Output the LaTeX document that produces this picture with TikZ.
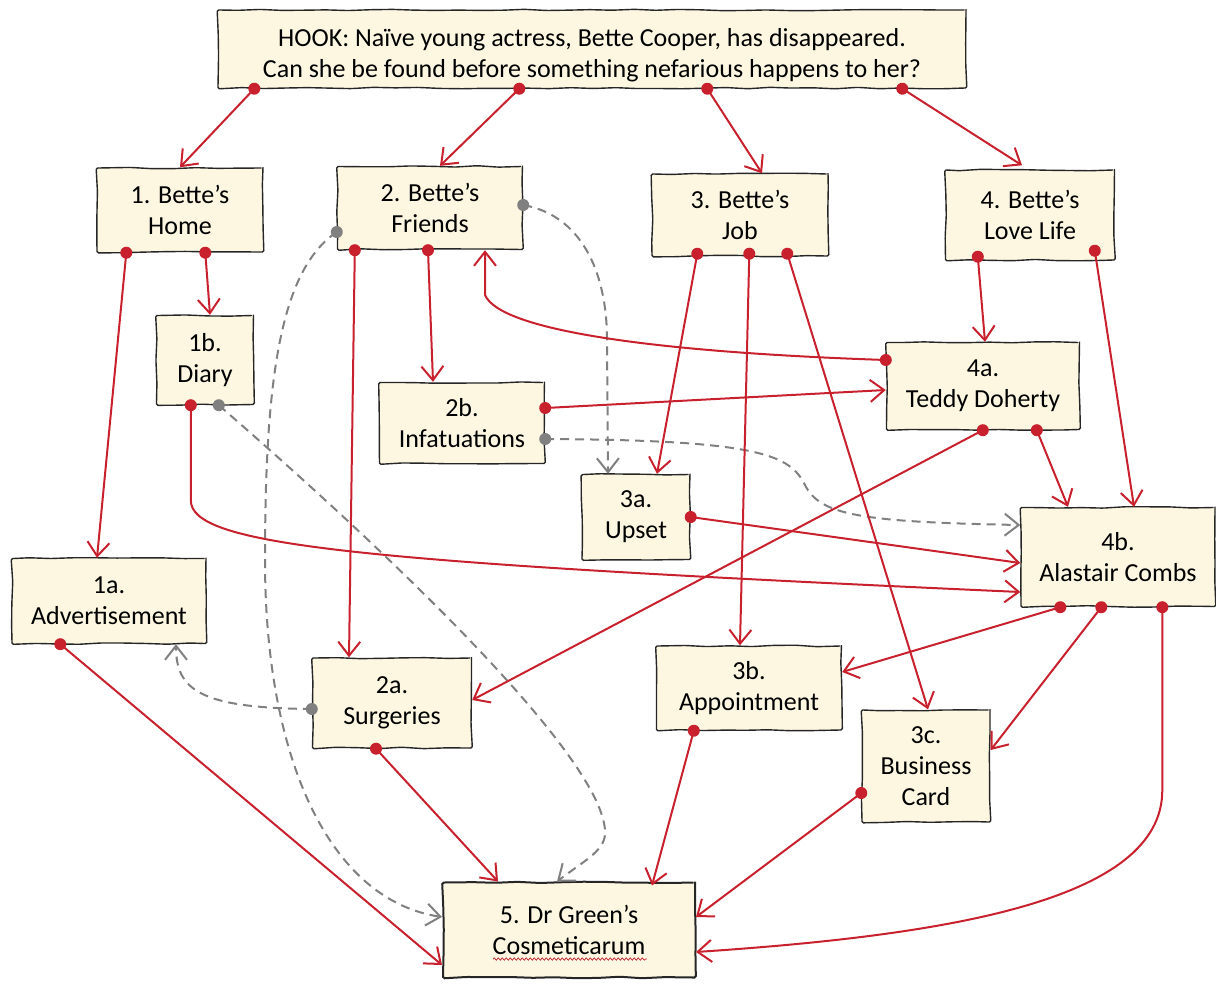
\documentclass[tikz,border=0pt]{standalone}
\usepackage{fontspec}
\setmainfont{Carlito}
\usetikzlibrary{arrows.meta,calc}
\usetikzlibrary{decorations.pathmorphing,decorations.markings}

\definecolor{boxfill}{RGB}{253,247,226}
\definecolor{linkred}{RGB}{200,32,44}
\definecolor{hintgrey}{RGB}{128,128,128}

\pgfmathsetseed{11}

\tikzset{
  box/.style={draw=black!85, line width=1.4pt, fill=boxfill, align=center, inner sep=0pt,
    font=\fontsize{26}{31}\selectfont,
    decorate, decoration={random steps, segment length=22pt, amplitude=0.8pt}, rounded corners=1.5pt},
  vtip/.style={-{Straight Barb[length=14pt,width=22pt]}},
  link/.style={draw=linkred, line width=2pt, vtip,
    postaction={decorate, decoration={markings, mark=at position 0 with {\fill[linkred] (0,0) circle (6pt);}}}},
  hint/.style={draw=hintgrey, line width=2pt, dash pattern=on 9pt off 6pt, vtip,
    postaction={decorate, decoration={markings, mark=at position 0 with {\fill[hintgrey] (0,0) circle (6pt);}}}}
}

\begin{document}
\begin{tikzpicture}[x=1pt, y=-1pt]
\useasboundingbox (0,0) rectangle (1216,986);

\node[box, minimum width=748pt, minimum height=78pt] (hook) at (592,49) {\rule{0pt}{31pt}HOOK: Naïve young actress, Bette Cooper, has disappeared.\\Can she be found before something nefarious happens to her?};
\node[box, minimum width=166pt, minimum height=84pt] (home) at (180,210) {1. Bette’s\\Home};
\node[box, minimum width=185pt, minimum height=83pt] (friends) at (430,208) {2. Bette’s\\Friends};
\node[box, minimum width=176pt, minimum height=82pt] (job) at (740,215) {3. Bette’s\\Job};
\node[box, minimum width=169pt, minimum height=90pt] (love) at (1030,215) {4. Bette’s\\Love Life};
\node[box, minimum width=97pt, minimum height=89pt] (diary) at (205,360) {1b.\\Diary};
\node[box, minimum width=165pt, minimum height=81pt] (infat) at (462,423) {2b.\\Infatuations};
\node[box, minimum width=193pt, minimum height=87pt] (teddy) at (983,386) {4a.\\Teddy Doherty};
\node[box, minimum width=108pt, minimum height=85pt] (upset) at (636,517) {3a.\\Upset};
\node[box, minimum width=194pt, minimum height=99pt] (combs) at (1118,557) {4b.\\Alastair Combs};
\node[box, minimum width=194pt, minimum height=85pt] (advert) at (109,601) {1a.\\Advertisement};
\node[box, minimum width=159pt, minimum height=90pt] (surg) at (392,703) {2a.\\Surgeries};
\node[box, minimum width=185pt, minimum height=84pt] (appt) at (749,688) {3b.\\Appointment};
\node[box, minimum width=128pt, minimum height=112pt] (card) at (926,766) {3c.\\Business\\Card};
\node[box, line width=2pt, minimum width=252pt, minimum height=95pt] (green) at (569,930) {5. Dr Green’s\\Cosmeticarum};
\draw[linkred, line width=0.7pt, decorate, decoration={snake, amplitude=1.2pt, segment length=4pt}] ($(green.center)+(-76,29)$) -- ($(green.center)+(78,29)$);

\draw[link] ([xshift=37pt]hook.south west) -- (home.north);
\draw[link] ([xshift=302pt]hook.south west) -- ([xshift=10pt]friends.north);
\draw[link] ([xshift=490pt]hook.south west) -- ([xshift=22pt]job.north);
\draw[link] ([xshift=685pt]hook.south west) -- ([xshift=-8pt,yshift=4pt]love.north);

\draw[link] ([xshift=30pt]home.south west) -- ([xshift=-12pt]advert.north);
\draw[link] ([xshift=109pt]home.south west) -- ([xshift=5pt]diary.north);

\draw[link] ([xshift=35pt]diary.south west) -- ++(0,95) .. controls +(0,45) and (350,562) .. ([yshift=-35pt]combs.west);
\draw[hint] ([xshift=63pt]diary.south west) .. controls (420,580) and (600,760) .. (605,830) .. controls (607,850) and (585,860) .. ([xshift=-12pt]green.north);

\draw[hint] ([yshift=-24pt]friends.west) .. controls (280,270) and (265,380) .. (265,560) .. controls (265,760) and (330,900) .. ([yshift=13pt]green.west);
\draw[hint] ([yshift=3pt]friends.east) .. controls (580,215) and (607,270) .. (607,340) -- ([xshift=-28pt]upset.north);
\draw[link] ([xshift=18pt]friends.south west) -- ([xshift=-43pt]surg.north);
\draw[link] ([xshift=-2pt]friends.south) -- ([xshift=-29pt]infat.north);
\draw[link] ([yshift=26pt]teddy.west) .. controls (650,352) and (500,330) .. (485,295) -- ([xshift=55pt]friends.south);

\draw[link] ([yshift=15pt]infat.east) -- ([yshift=-4pt]teddy.west);
\draw[hint] ([yshift=-16pt]infat.east) .. controls (760,440) and (790,455) .. (805,485) .. controls (820,515) and (860,522) .. ([yshift=32pt]combs.west);

\draw[link] ([xshift=46pt,yshift=3pt]job.south west) -- ([xshift=21pt]upset.north);
\draw[link] ([xshift=98pt,yshift=3pt]job.south west) -- ([xshift=-9pt]appt.north);
\draw[link] ([xshift=136pt,yshift=3pt]job.south west) -- ([xshift=2pt]card.north);

\draw[link] ([xshift=33pt,yshift=4pt]love.south west) -- ([xshift=2pt]teddy.north);
\draw[link] ([xshift=150pt,yshift=10pt]love.south west) -- ([xshift=16pt]combs.north);

\draw[link] ([xshift=97pt]teddy.south west) -- ([yshift=3pt]surg.east);
\draw[link] ([xshift=151pt]teddy.south west) -- ([xshift=-50pt]combs.north);

\draw[link] (upset.east) -- ([yshift=-6pt]combs.west);

\draw[link] ([xshift=40pt]combs.south west) -- ([yshift=16pt]appt.east);
\draw[link] ([xshift=81pt]combs.south west) -- ([yshift=16pt]card.east);
\draw[link] ([xshift=142pt]combs.south west) -- ++(0,183) .. controls +(0,110) and (950,935) .. ([yshift=-22pt]green.east);

\draw[link] ([xshift=49pt]advert.south west) -- ([yshift=-35pt]green.west);
\draw[hint] ([yshift=-6pt]surg.west) .. controls (200,708) and (176,690) .. ([xshift=67pt]advert.south);
\draw[link] ([xshift=-16pt]surg.south) -- ([xshift=-71pt]green.north);
\draw[link] ([xshift=38pt]appt.south west) -- ([xshift=83pt,yshift=-4pt]green.north);
\draw[link] ([yshift=-27pt]card.west) -- ([yshift=13pt]green.east);
\end{tikzpicture}
\end{document}
